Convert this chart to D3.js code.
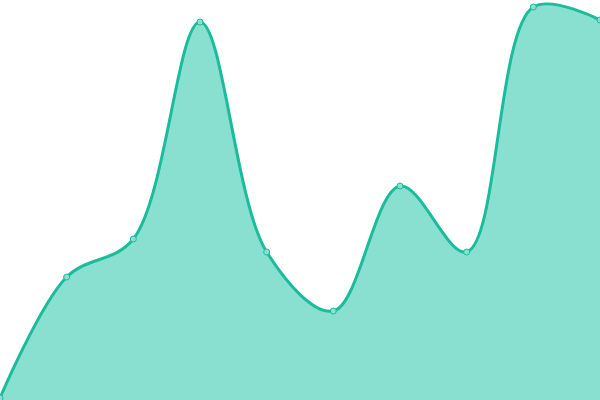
<!DOCTYPE html>
<html>
<head>
<meta charset="utf-8">
<script src="https://cdn.jsdelivr.net/npm/d3@7"></script>
<style>
  html, body { margin: 0; padding: 0; background: #fff; }
  svg { display: block; }
</style>
</head>
<body>
<div class="areaGraph"></div>
<script>
// points along the x axis, one value each
let steps = [0, 1, 2, 3, 4, 5, 6, 7, 8, 9];
let values = [2, 123, 161, 378, 148, 89, 214, 148, 393, 380];

let width = 600;
let height = 400;

let svg = d3.select('.areaGraph')
  .append('svg')
  .attr('width', width)
  .attr('height', height);

// create scale functions
let xScale = d3.scaleLinear()
  .domain([0, steps.length - 1])
  .range([0, width]);

let yScale = d3.scaleLinear()
  .domain([0, 400])
  .range([height, 0]);

let data = steps.map(function(s, i) { return { x: s, y: values[i] }; });

let curve = d3.curveCatmullRom.alpha(0.5);

let area = d3.area()
  .x(function(d) { return xScale(d.x); })
  .y0(height)
  .y1(function(d) { return yScale(d.y); })
  .curve(curve);

let line = d3.line()
  .x(function(d) { return xScale(d.x); })
  .y(function(d) { return yScale(d.y); })
  .curve(curve);

svg.append('path')
  .datum(data)
  .attr('d', area)
  .attr('fill', '#89e0d0');

svg.append('path')
  .datum(data)
  .attr('d', line)
  .attr('fill', 'none')
  .attr('stroke', '#1abc9c')
  .attr('stroke-width', 3);

svg.selectAll('.dot')
  .data(data)
  .enter().append('circle')
  .attr('class', 'dot')
  .attr('cx', function(d) { return xScale(d.x); })
  .attr('cy', function(d) { return yScale(d.y); })
  .attr('r', 3)
  .attr('fill', '#89e0d0')
  .attr('stroke', '#1abc9c')
  .attr('stroke-width', 1);
</script>
</body>
</html>
